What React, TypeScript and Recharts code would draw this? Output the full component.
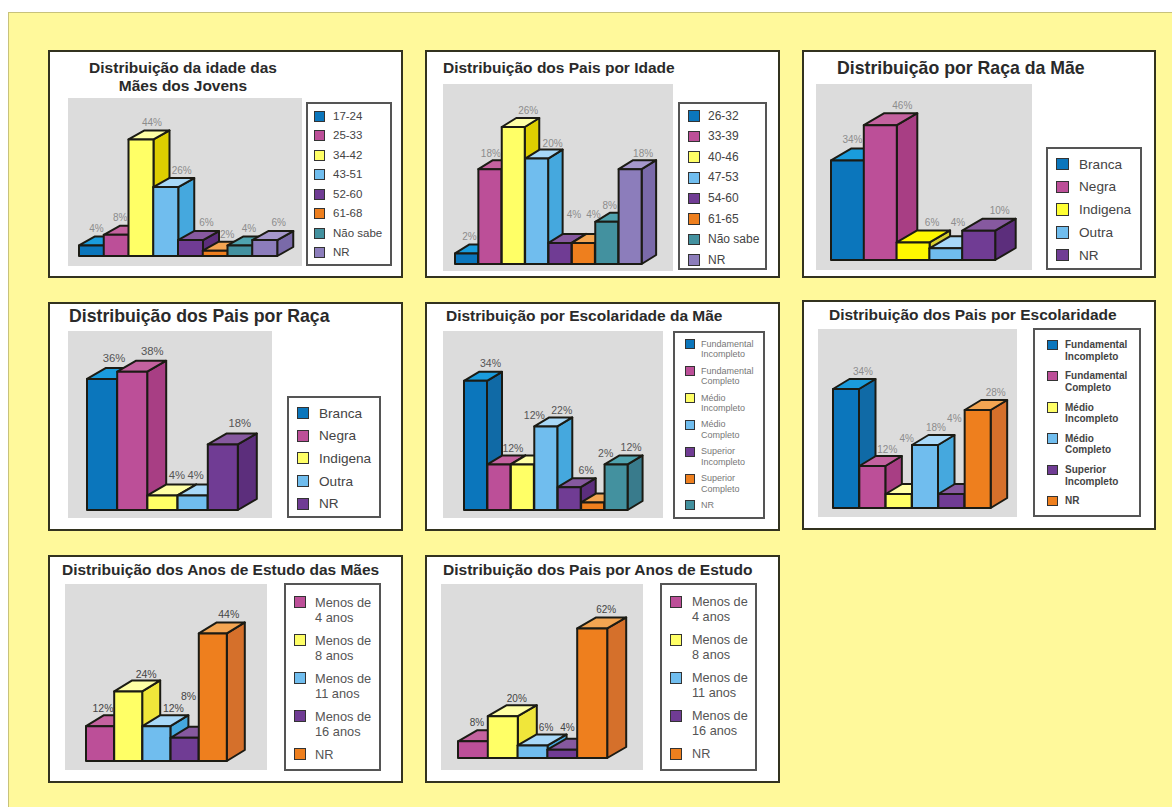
import React from "react";
import { BarChart, Bar, XAxis, YAxis, LabelList } from "recharts";

// ---- categories ----
const maeAgeCategories = ["17-24", "25-33", "34-42", "43-51", "52-60", "61-68", "Não sabe", "NR"];
const paiAgeCategories = ["26-32", "33-39", "40-46", "47-53", "54-60", "61-65", "Não sabe", "NR"];
const raceCategories = ["Branca", "Negra", "Indigena", "Outra", "NR"];
const maeSchoolCategories = [
  "Fundamental\nIncompleto",
  "Fundamental\nCompleto",
  "Médio\nIncompleto",
  "Médio\nCompleto",
  "Superior\nIncompleto",
  "Superior\nCompleto",
  "NR",
];
const paiSchoolCategories = [
  "Fundamental\nIncompleto",
  "Fundamental\nCompleto",
  "Médio\nIncompleto",
  "Médio\nCompleto",
  "Superior\nIncompleto",
  "NR",
];
const studyYearCategories = ["Menos de\n4 anos", "Menos de\n8 anos", "Menos de\n11 anos", "Menos de\n16 anos", "NR"];

// ---- percentages ----
const maeAgeValues = [4, 8, 44, 26, 6, 2, 4, 6];
const paiAgeValues = [2, 18, 26, 20, 4, 4, 8, 18];
const maeRaceValues = [34, 46, 6, 4, 10];
const paiRaceValues = [36, 38, 4, 4, 18];
const maeSchoolValues = [34, 12, 12, 22, 6, 2, 12];
const paiSchoolValues = [34, 12, 4, 18, 4, 28];
const maeStudyValues = [12, 24, 12, 8, 44];
const paiStudyValues = [8, 20, 6, 4, 62];

// ---- colour names per category ----
const ageTones = ["blue", "magenta", "yellowDeep", "sky", "purple", "orange", "teal", "lavender"];
const maeRaceTones = ["blue", "magenta", "yellowVivid", "sky", "purple"];
const raceTones = ["blue", "magenta", "yellow", "sky", "purple"];
const maeSchoolTones = ["blue", "magenta", "yellow", "sky", "purple", "orange", "teal"];
const paiSchoolTones = ["blue", "magenta", "yellow", "sky", "purple", "orange"];
const studyTones = ["magenta", "yellow", "sky", "purple", "orange"];

const PALETTE: Record<string, { front: string; top: string; side: string; swatch?: string }> = {
  blue: { front: "#0B76BC", top: "#1A9CDD", side: "#106AA6" },
  magenta: { front: "#BC4F98", top: "#C4629F", side: "#A83E84" },
  yellow: { front: "#FFFF66", top: "#FFFFA6", side: "#F0E63A" },
  yellowDeep: { front: "#FFFF66", top: "#FFFFA6", side: "#DECE00" },
  yellowVivid: { front: "#FFF800", top: "#FFF800", side: "#D8D030", swatch: "#FFFF33" },
  sky: { front: "#70BDEE", top: "#A8D8F8", side: "#45A8DE" },
  purple: { front: "#703C94", top: "#86599F", side: "#5C2E7C" },
  orange: { front: "#EE7F1E", top: "#F3A552", side: "#D5702B" },
  teal: { front: "#43919F", top: "#4FA3AF", side: "#397B8C" },
  lavender: { front: "#8C7DBB", top: "#A597CB", side: "#7A6AA9" },
};

const INK = "#1B1B14";

type Rect = { x: number; y: number; w: number; h: number };

type Panel = {
  title: string[];
  titleX: number;
  titleY: number;
  titleSize: number;
  titleAlign?: "center";
  categories: string[];
  values: number[];
  tones: string[];
  box: Rect;
  plot: Rect;
  legend: Rect;
  barsFrom: number;
  barsTo: number;
  base: number;
  pxPerUnit: number;
  depth: [number, number];
  labelSize: number;
  labelColor: string;
  labelShift: [number, number][];
  swatchX: number;
  swatchSize: number;
  textX: number;
  rowFirst: number;
  rowStep: number;
  legendSize: number;
  legendLine: number;
  legendColor: string;
  legendWeight?: number;
};

const panels: Panel[] = [
  {
    title: ["Distribuição da idade das", "Mães dos Jovens"],
    titleX: 183,
    titleY: 68,
    titleSize: 15.5,
    titleAlign: "center",
    categories: maeAgeCategories,
    values: maeAgeValues,
    tones: ageTones,
    box: { x: 48, y: 50, w: 355, h: 228 },
    plot: { x: 68, y: 98, w: 234, h: 168 },
    legend: { x: 306, y: 102, w: 86, h: 164 },
    barsFrom: 79,
    barsTo: 277,
    base: 256,
    pxPerUnit: 2.65,
    depth: [16, 9],
    labelSize: 10,
    labelColor: "#8C8C8C",
    labelShift: [[5, -17], [4, -17], [11, -17], [16, -17], [16, -18], [12, -16], [9, -17], [14, -18]],
    swatchX: 314,
    swatchSize: 11,
    textX: 333,
    rowFirst: 116,
    rowStep: 19.5,
    legendSize: 11.5,
    legendLine: 13,
    legendColor: "#444",
  },
  {
    title: ["Distribuição dos Pais por Idade"],
    titleX: 443,
    titleY: 68,
    titleSize: 15.5,
    categories: paiAgeCategories,
    values: paiAgeValues,
    tones: ageTones,
    box: { x: 425, y: 50, w: 355, h: 228 },
    plot: { x: 443, y: 84, w: 230, h: 187 },
    legend: { x: 678, y: 102, w: 89, h: 168 },
    barsFrom: 455,
    barsTo: 642,
    base: 264,
    pxPerUnit: 5.27,
    depth: [14.5, 9],
    labelSize: 10,
    labelColor: "#8C8C8C",
    labelShift: [[3, -17], [1, -16], [15, -16], [16, -15], [14, -28], [10, -28], [3, -16], [13, -16]],
    swatchX: 688,
    swatchSize: 11.5,
    textX: 708,
    rowFirst: 116,
    rowStep: 20.6,
    legendSize: 12,
    legendLine: 13,
    legendColor: "#444",
  },
  {
    title: ["Distribuição por Raça da Mãe"],
    titleX: 837,
    titleY: 69,
    titleSize: 17.7,
    categories: raceCategories,
    values: maeRaceValues,
    tones: maeRaceTones,
    box: { x: 802, y: 50, w: 354, h: 228 },
    plot: { x: 816, y: 84, w: 216, h: 186 },
    legend: { x: 1046, y: 147, w: 96, h: 123 },
    barsFrom: 831,
    barsTo: 995,
    base: 260,
    pxPerUnit: 2.93,
    depth: [20.5, 12],
    labelSize: 10,
    labelColor: "#8C8C8C",
    labelShift: [[5, -21], [22, -20], [19, -20], [12, -26], [21, -20]],
    swatchX: 1056,
    swatchSize: 12.5,
    textX: 1079,
    rowFirst: 164,
    rowStep: 22.75,
    legendSize: 13.6,
    legendLine: 15,
    legendColor: "#444",
  },
  {
    title: ["Distribuição dos Pais por Raça"],
    titleX: 69,
    titleY: 317,
    titleSize: 17.7,
    categories: raceCategories,
    values: paiRaceValues,
    tones: raceTones,
    box: { x: 48, y: 302, w: 355, h: 229 },
    plot: { x: 68, y: 331, w: 204, h: 187 },
    legend: { x: 287, y: 396, w: 94, h: 122 },
    barsFrom: 87,
    barsTo: 238,
    base: 510,
    pxPerUnit: 3.64,
    depth: [19, 11],
    labelSize: 11.3,
    labelColor: "#555",
    labelShift: [[12, -21], [20, -21], [14.5, -20], [3, -20], [17, -21]],
    swatchX: 297,
    swatchSize: 12,
    textX: 319,
    rowFirst: 413,
    rowStep: 22.7,
    legendSize: 13.6,
    legendLine: 15,
    legendColor: "#444",
  },
  {
    title: ["Distribuição por Escolaridade da Mãe"],
    titleX: 446,
    titleY: 316,
    titleSize: 15.5,
    categories: maeSchoolCategories,
    values: maeSchoolValues,
    tones: maeSchoolTones,
    box: { x: 425, y: 302, w: 355, h: 229 },
    plot: { x: 443, y: 331, w: 220, h: 187 },
    legend: { x: 673, y: 331, w: 92, h: 188 },
    barsFrom: 464,
    barsTo: 628,
    base: 510,
    pxPerUnit: 3.8,
    depth: [15, 9],
    labelSize: 10.5,
    labelColor: "#555",
    labelShift: [[15, -18], [14, -16], [12, -49], [16, -16], [17, -17], [13, -49], [15, -17]],
    swatchX: 685,
    swatchSize: 10,
    textX: 701,
    rowFirst: 344,
    rowStep: 26.9,
    legendSize: 9,
    legendLine: 10.6,
    legendColor: "#777",
  },
  {
    title: ["Distribuição dos Pais por Escolaridade"],
    titleX: 829,
    titleY: 315,
    titleSize: 15.5,
    categories: paiSchoolCategories,
    values: paiSchoolValues,
    tones: paiSchoolTones,
    box: { x: 802, y: 300, w: 354, h: 230 },
    plot: { x: 818, y: 329, w: 199, h: 188 },
    legend: { x: 1033, y: 328, w: 108, h: 189 },
    barsFrom: 833,
    barsTo: 991,
    base: 508,
    pxPerUnit: 3.5,
    depth: [16.5, 10],
    labelSize: 10,
    labelColor: "#8C8C8C",
    labelShift: [[17, -18], [15, -17], [8, -56], [11, -18], [3, -76], [18, -18]],
    swatchX: 1047,
    swatchSize: 10.5,
    textX: 1065,
    rowFirst: 345,
    rowStep: 31.2,
    legendSize: 10,
    legendLine: 11.6,
    legendColor: "#444",
    legendWeight: 700,
  },
  {
    title: ["Distribuição dos Anos de Estudo das Mães"],
    titleX: 62,
    titleY: 570,
    titleSize: 15.5,
    categories: studyYearCategories,
    values: maeStudyValues,
    tones: studyTones,
    box: { x: 48, y: 555, w: 355, h: 228 },
    plot: { x: 65, y: 584, w: 202, h: 186 },
    legend: { x: 284, y: 583, w: 97, h: 188 },
    barsFrom: 86,
    barsTo: 227,
    base: 761,
    pxPerUnit: 2.9,
    depth: [18, 11],
    labelSize: 10.5,
    labelColor: "#444",
    labelShift: [[3, -18], [18, -17], [17, -18], [4, -42], [16, -19]],
    swatchX: 294,
    swatchSize: 12,
    textX: 315,
    rowFirst: 602,
    rowStep: 38,
    legendSize: 12.8,
    legendLine: 15,
    legendColor: "#555",
  },
  {
    title: ["Distribuição dos Pais por Anos de Estudo"],
    titleX: 443,
    titleY: 570,
    titleSize: 15.55,
    categories: studyYearCategories,
    values: paiStudyValues,
    tones: studyTones,
    box: { x: 425, y: 555, w: 355, h: 228 },
    plot: { x: 441, y: 584, w: 202, h: 186 },
    legend: { x: 660, y: 583, w: 97, h: 188 },
    barsFrom: 458,
    barsTo: 607,
    base: 758,
    pxPerUnit: 2.09,
    depth: [19, 11],
    labelSize: 10,
    labelColor: "#444",
    labelShift: [[4, -19], [14, -18], [13.5, -17.5], [5, -22], [14, -19]],
    swatchX: 670,
    swatchSize: 12,
    textX: 692,
    rowFirst: 602,
    rowStep: 38,
    legendSize: 12.7,
    legendLine: 15,
    legendColor: "#555",
  },
];

const SANS = '"Liberation Sans", Arial, sans-serif';

// A column drawn as a front face plus an oblique top and side.
function Column3D(props: any) {
  const { x, y, width: w, height: h, payload, depth } = props;
  const [dx, dy] = depth as [number, number];
  const c = PALETTE[payload.tone];
  const top = `${x},${y} ${x + w},${y} ${x + w + dx},${y - dy} ${x + dx},${y - dy}`;
  const side = `${x + w},${y} ${x + w + dx},${y - dy} ${x + w + dx},${y + h - dy} ${x + w},${y + h}`;
  return (
    <g stroke={INK} strokeWidth={2} strokeLinejoin="round">
      <polygon points={side} fill={c.side} />
      <polygon points={top} fill={c.top} />
      <rect x={x} y={y} width={w} height={h} fill={c.front} />
    </g>
  );
}

function PanelChart({ p }: { p: Panel }) {
  const rows = p.categories.map((name, i) => ({
    name: name.replace("\n", " "),
    value: p.values[i],
    tone: p.tones[i],
  }));
  const bottomGap = p.plot.y + p.plot.h - p.base;
  const yMax = (p.plot.h - bottomGap) / p.pxPerUnit;

  return (
    <BarChart
      width={p.plot.w}
      height={p.plot.h}
      data={rows}
      barCategoryGap={0}
      margin={{
        top: 0,
        bottom: bottomGap,
        left: p.barsFrom - p.plot.x,
        right: p.plot.x + p.plot.w - p.barsTo,
      }}
      style={{ position: "absolute", left: p.plot.x, top: p.plot.y, background: "#DCDCDC" }}
    >
      <XAxis dataKey="name" hide />
      <YAxis hide type="number" domain={[0, yMax]} />
      <Bar
        dataKey="value"
        isAnimationActive={false}
        shape={(s: any) => <Column3D {...s} depth={p.depth} />}
      >
        <LabelList
          dataKey="value"
          content={(l: any) => {
            const [sx, sy] = p.labelShift[l.index];
            return (
              <text
                x={l.x + l.width / 2 + sx}
                y={l.y + sy}
                textAnchor="middle"
                dominantBaseline="central"
                fontFamily={SANS}
                fontSize={p.labelSize}
                fill={p.labelColor}
              >
                {l.value}%
              </text>
            );
          }}
        />
      </Bar>
    </BarChart>
  );
}

function PanelLegend({ p }: { p: Panel }) {
  return (
    <>
      <div
        style={{
          position: "absolute",
          left: p.legend.x,
          top: p.legend.y,
          width: p.legend.w,
          height: p.legend.h,
          boxSizing: "border-box",
          border: "2px solid #555",
          background: "#fff",
        }}
      />
      {p.categories.map((name, i) => {
        const cy = p.rowFirst + p.rowStep * i;
        const c = PALETTE[p.tones[i]];
        return (
          <React.Fragment key={name}>
            <div
              style={{
                position: "absolute",
                left: p.swatchX,
                top: cy - p.swatchSize / 2,
                width: p.swatchSize,
                height: p.swatchSize,
                boxSizing: "border-box",
                border: "1.5px solid #333",
                background: c.swatch ?? c.front,
              }}
            />
            <div
              style={{
                position: "absolute",
                left: p.textX,
                top: cy - p.legendLine / 2,
                whiteSpace: "pre",
                fontFamily: SANS,
                fontSize: p.legendSize,
                lineHeight: `${p.legendLine}px`,
                fontWeight: p.legendWeight ?? 400,
                color: p.legendColor,
              }}
            >
              {name}
            </div>
          </React.Fragment>
        );
      })}
    </>
  );
}

function PanelTitle({ p }: { p: Panel }) {
  const line = p.titleSize * 1.12;
  return (
    <>
      {p.title.map((t, i) => (
        <div
          key={t}
          style={{
            position: "absolute",
            left: p.titleX,
            top: p.titleY + i * line - line / 2,
            transform: p.titleAlign === "center" ? "translateX(-50%)" : undefined,
            whiteSpace: "pre",
            fontFamily: SANS,
            fontWeight: 700,
            fontSize: p.titleSize,
            lineHeight: `${line}px`,
            color: "#2A2A2A",
          }}
        >
          {t}
        </div>
      ))}
    </>
  );
}

export default function App() {
  return (
    <div
      style={{
        position: "absolute",
        left: 0,
        top: 0,
        width: 1172,
        height: 807,
        overflow: "hidden",
        background: "#fff",
      }}
    >
      <div
        style={{
          position: "absolute",
          left: 8,
          top: 12,
          right: 0,
          bottom: 0,
          background: "#FFF99B",
          borderTop: "1px solid #C8C27C",
          borderLeft: "1px solid #C8C27C",
        }}
      />
      {panels.map((p) => (
        <React.Fragment key={p.title[0]}>
          <div
            style={{
              position: "absolute",
              left: p.box.x,
              top: p.box.y,
              width: p.box.w,
              height: p.box.h,
              boxSizing: "border-box",
              border: "2.5px solid #33331F",
              background: "#fff",
            }}
          />
          <PanelTitle p={p} />
          <PanelChart p={p} />
          <PanelLegend p={p} />
        </React.Fragment>
      ))}
    </div>
  );
}
